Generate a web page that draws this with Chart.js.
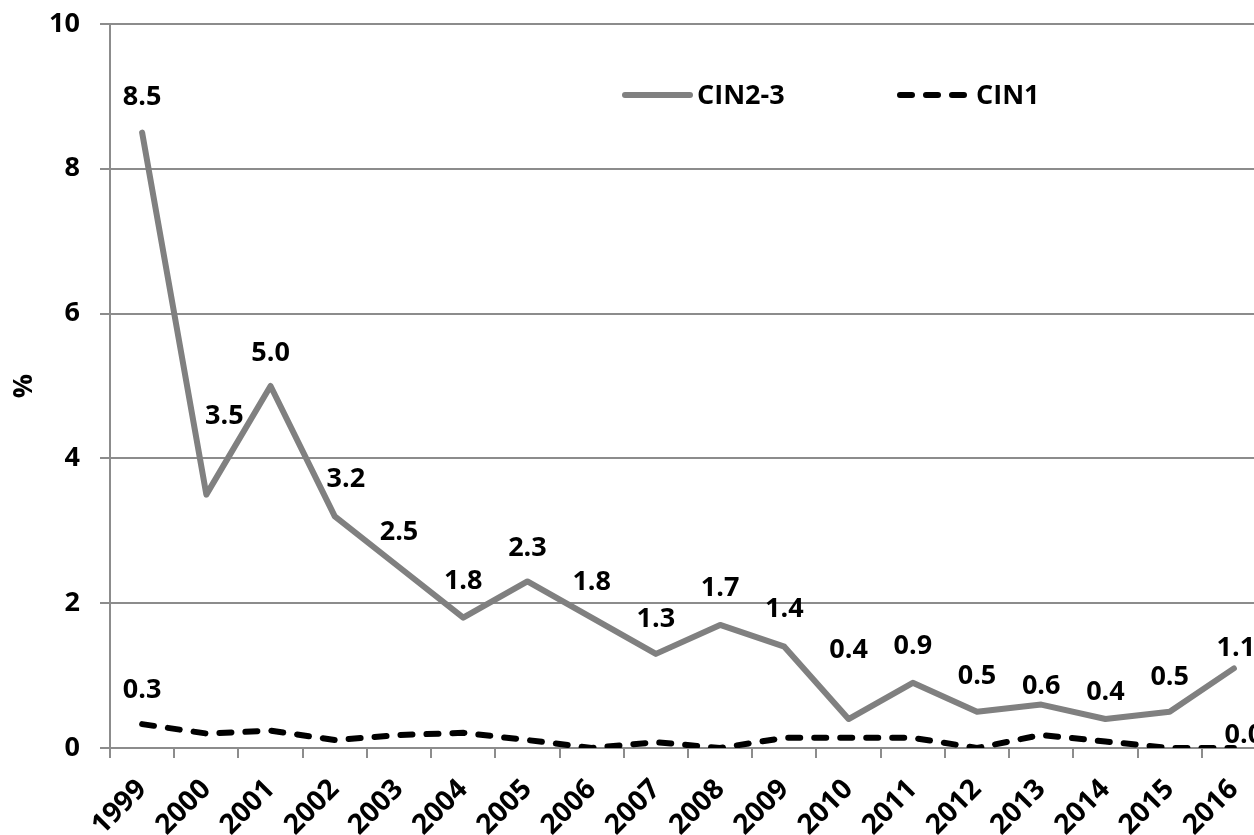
<!DOCTYPE html>
<html>
<head>
<meta charset="utf-8">
<script src="https://cdn.jsdelivr.net/npm/chart.js@4.4.1/dist/chart.umd.min.js"></script>
<style>
  html, body { margin: 0; padding: 0; background: #fff; overflow: hidden; }
  #wrap { width: 1254px; height: 835px; overflow: hidden; position: relative; }
  #chart { position: absolute; left: 0; top: 0; }
</style>
</head>
<body>
<div id="wrap"><canvas id="chart" width="1280" height="835"></canvas></div>
<script>
// データ
const years = ['1999', '2000', '2001', '2002', '2003', '2004', '2005', '2006', '2007',
               '2008', '2009', '2010', '2011', '2012', '2013', '2014', '2015', '2016'];
const cin23 = [8.5, 3.5, 5.0, 3.2, 2.5, 1.8, 2.3, 1.8, 1.3, 1.7, 1.4, 0.4, 0.9, 0.5, 0.6, 0.4, 0.5, 1.1];
const cin1 = [0.33, 0.2, 0.24, 0.11, 0.18, 0.21, 0.11, 0.0, 0.08, 0.0, 0.14, 0.14, 0.14, 0.0, 0.18, 0.09, 0.0, 0.0];
const yTicks = [0, 2, 4, 6, 8, 10];

const FONT = '"Open Sans", "DejaVu Sans", sans-serif';
const GRID = '#8c8c8c';

// ラベルの位置調整 (px)
const labelDx = [0, 18, 0, 11, 0, 0, 0, 0, 0, 0, 0, 0, 0, 0, 0, 0, 0, 2];
const labelDy = [-35, -78, -33, -37, -35, -36, -33, -35, -35, -37, -37, -69, -37, -35, -18, -27, -34, -20];

const labelPlugin = {
  id: 'valueLabels',
  afterDatasetsDraw(chart) {
    const ctx = chart.ctx;
    ctx.save();
    ctx.font = 'bold 27px ' + FONT;
    ctx.fillStyle = '#000';
    ctx.textAlign = 'center';
    ctx.textBaseline = 'middle';
    // CIN2-3
    chart.getDatasetMeta(0).data.forEach((pt, i) => {
      ctx.fillText(cin23[i].toFixed(1), pt.x + labelDx[i], pt.y + labelDy[i]);
    });
    // CIN1 は最初と最後だけ
    const m1 = chart.getDatasetMeta(1).data;
    const last = m1.length - 1;
    ctx.fillText(cin1[0].toFixed(1), m1[0].x, m1[0].y - 34);
    ctx.fillText(cin1[last].toFixed(1), m1[last].x + 10, m1[last].y - 13);
    ctx.restore();
  }
};

const legendPlugin = {
  id: 'customLegend',
  afterDraw(chart) {
    const ctx = chart.ctx;
    const y = 95;
    ctx.save();
    ctx.lineWidth = 6;
    ctx.lineCap = 'round';
    ctx.strokeStyle = '#808080';
    ctx.beginPath();
    ctx.moveTo(625, y);
    ctx.lineTo(690, y);
    ctx.stroke();
    ctx.strokeStyle = '#000';
    ctx.setLineDash([12, 14]);
    ctx.beginPath();
    ctx.moveTo(900, y);
    ctx.lineTo(972, y);
    ctx.stroke();
    ctx.setLineDash([]);
    ctx.font = 'bold 27px ' + FONT;
    ctx.fillStyle = '#000';
    ctx.textBaseline = 'middle';
    ctx.fillText('CIN2-3', 697, y + 1);
    ctx.fillText('CIN1', 976, y + 1);
    ctx.restore();
  }
};

const chart = new Chart(document.getElementById('chart'), {
  type: 'line',
  data: {
    labels: years,
    datasets: [{
      label: 'CIN2-3',
      data: cin23,
      borderColor: '#808080',
      borderWidth: 6,
      pointRadius: 0,
      tension: 0,
      borderJoinStyle: 'round',
      borderCapStyle: 'round'
    }, {
      label: 'CIN1',
      data: cin1,
      borderColor: '#000',
      borderWidth: 6,
      borderDash: [12, 14],
      borderCapStyle: 'round',
      pointRadius: 0,
      tension: 0
    }]
  },
  options: {
    responsive: false,
    animation: false,
    layout: { padding: { left: 0, right: 14, top: 24, bottom: 0 } },
    plugins: {
      legend: { display: false },
      tooltip: { enabled: false }
    },
    scales: {
      x: {
        offset: true,
        grid: { offset: true, drawOnChartArea: false, drawTicks: true, tickLength: 10, color: GRID, lineWidth: 2 },
        border: { color: GRID, width: 2 },
        ticks: {
          color: '#000',
          font: { family: FONT, size: 28, weight: 'bold' },
          minRotation: 45,
          maxRotation: 45,
          padding: 15,
          autoSkip: false
        },
        afterFit: s => {
          s.height = 87;
          s.paddingLeft = 0;
          s.paddingRight = 0;
        }
      },
      y: {
        min: 0,
        max: 10,
        afterBuildTicks: s => { s.ticks = yTicks.map(v => ({ value: v })); },
        grid: { color: GRID, lineWidth: 2, tickLength: 10 },
        border: { color: GRID, width: 2 },
        ticks: {
          color: '#000',
          font: { family: FONT, size: 27, weight: 'bold' },
          padding: 20
        },
        title: {
          display: true,
          text: '%',
          color: '#000',
          font: { family: FONT, size: 27, weight: 'bold' },
          padding: { top: 8, bottom: 0 }
        },
        afterFit: s => {
          s.width = 110;
          s.paddingTop = 0;
          s.paddingBottom = 0;
        }
      }
    }
  },
  plugins: [labelPlugin, legendPlugin]
});
</script>
</body>
</html>
